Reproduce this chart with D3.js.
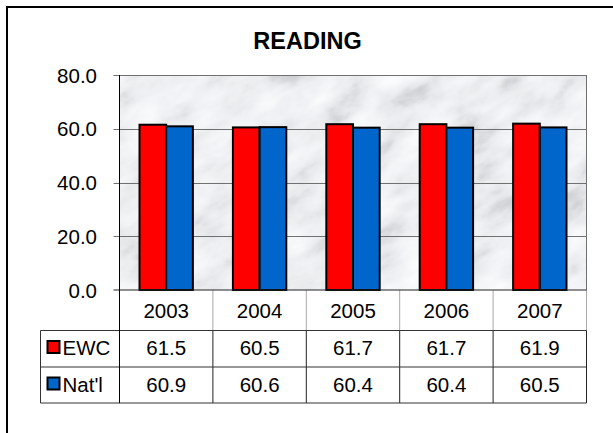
<!DOCTYPE html>
<html lang="en">
<head>
<meta charset="utf-8">
<title>READING</title>
<script src="https://cdn.jsdelivr.net/npm/d3@7"></script>
<style>
  body { margin: 0; background: #fff; }
  svg { display: block; font-family: "Liberation Sans", Arial, sans-serif; }
</style>
</head>
<body>
<script>
// chart data
const years = ['2003', '2004', '2005', '2006', '2007'];
const seriesNames = ['EWC', "Nat'l"];
const ewc = [61.5, 60.5, 61.7, 61.7, 61.9];
const natl = [60.9, 60.6, 60.4, 60.4, 60.5];
const seriesColors = ['#ff0000', '#0066cc'];
const yTicks = [0, 20, 40, 60, 80];

const W = 613, H = 433;
const plot = { left: 119.5, right: 586.5, top: 75, bottom: 290 };
const rowBottoms = [330.5, 367, 403]; // year row, EWC row, Nat'l row
const tableLeft = 40.5;

const svg = d3.select('body').append('svg')
  .attr('width', W).attr('height', H);

// marble-ish background texture
const defs = svg.append('defs');
const f = defs.append('filter').attr('id', 'marble')
  .attr('x', 0).attr('y', 0).attr('width', 1).attr('height', 1)
  .attr('filterUnits', 'objectBoundingBox');
f.append('feTurbulence')
  .attr('type', 'fractalNoise')
  .attr('baseFrequency', '0.018 0.032')
  .attr('numOctaves', 5).attr('seed', 11).attr('result', 'n');
f.append('feColorMatrix').attr('in', 'n').attr('type', 'matrix')
  .attr('values', '1 0 0 0 0  1 0 0 0 0  1 0 0 0 0  0 0 0 0 1').attr('result', 'g');
const ct = f.append('feComponentTransfer').attr('in', 'g');
ct.append('feFuncR').attr('type', 'table').attr('tableValues', '0.5 0.58 0.68 0.8 0.86 0.9 0.94 0.97 0.99');
ct.append('feFuncG').attr('type', 'table').attr('tableValues', '0.51 0.59 0.69 0.81 0.87 0.91 0.95 0.98 1');
ct.append('feFuncB').attr('type', 'table').attr('tableValues', '0.53 0.61 0.71 0.83 0.89 0.93 0.96 0.99 1');
defs.append('clipPath').attr('id', 'plotclip')
  .append('rect')
  .attr('x', plot.left).attr('y', plot.top)
  .attr('width', plot.right - plot.left).attr('height', plot.bottom - plot.top);

// outer frame
svg.append('rect')
  .attr('x', 7).attr('y', 7).attr('width', W + 20).attr('height', H + 20)
  .attr('fill', 'none').attr('stroke', '#000').attr('stroke-width', 2);

// title
svg.append('text')
  .attr('x', 307.5).attr('y', 48.5)
  .attr('text-anchor', 'middle')
  .style('font-size', '23.5px').style('font-weight', 'bold')
  .text('READING');

const x = d3.scaleBand().domain(years).range([plot.left, plot.right]);
const xs = d3.scaleBand().domain(seriesNames).range([0, x.bandwidth()])
  .paddingInner(0).paddingOuter(0.75);
const y = d3.scaleLinear().domain([0, 80]).range([plot.bottom, plot.top]);

// background
svg.append('g').attr('clip-path', 'url(#plotclip)')
  .append('rect')
  .attr('x', plot.left - 150).attr('y', plot.top - 150)
  .attr('width', plot.right - plot.left + 300).attr('height', plot.bottom - plot.top + 300)
  .attr('transform', `rotate(-30 ${(plot.left + plot.right) / 2} ${(plot.top + plot.bottom) / 2})`)
  .attr('filter', 'url(#marble)');

// gridlines
svg.append('g').selectAll('line')
  .data(yTicks.filter(d => d > 0))
  .join('line')
  .attr('x1', plot.left - 6).attr('x2', plot.right)
  .attr('y1', d => Math.round(y(d)) + 0.5).attr('y2', d => Math.round(y(d)) + 0.5)
  .attr('stroke', '#707070').attr('stroke-width', 1);

svg.append('line')
  .attr('x1', plot.right).attr('x2', plot.right)
  .attr('y1', plot.top).attr('y2', plot.bottom)
  .attr('stroke', '#707070');

// y labels
svg.append('g').selectAll('text')
  .data(yTicks)
  .join('text')
  .attr('x', 97).attr('y', d => y(d) + 7.5)
  .attr('text-anchor', 'end')
  .style('font-size', '20.5px')
  .text(d => d3.format('.1f')(d));

// bars
const series = [ewc, natl];
const bars = svg.append('g');
seriesNames.forEach((name, si) => {
  bars.selectAll('rect.s' + si)
    .data(years.map((yr, i) => ({ yr, v: series[si][i] })))
    .join('rect')
    .attr('class', 's' + si)
    .attr('x', d => x(d.yr) + xs(name))
    .attr('y', d => y(d.v))
    .attr('width', xs.bandwidth())
    .attr('height', d => y(0) - y(d.v))
    .attr('fill', seriesColors[si])
    .attr('stroke', '#000').attr('stroke-width', 2);
});

// table lines
const tbl = svg.append('g');
// year row column separators (gray)
tbl.selectAll('line.ycol')
  .data(years.slice(1).concat(['end']))
  .join('line')
  .attr('x1', d => d === 'end' ? plot.right : x(d))
  .attr('x2', d => d === 'end' ? plot.right : x(d))
  .attr('y1', plot.bottom).attr('y2', rowBottoms[0])
  .attr('stroke', '#a8a8a8');
// data row column separators
tbl.selectAll('line.dcol')
  .data(years.slice(1).concat(['end']))
  .join('line')
  .attr('x1', d => d === 'end' ? plot.right : x(d))
  .attr('x2', d => d === 'end' ? plot.right : x(d))
  .attr('y1', rowBottoms[0]).attr('y2', rowBottoms[2])
  .attr('stroke', '#222');
// horizontal rules
tbl.selectAll('line.hrow')
  .data(rowBottoms)
  .join('line')
  .attr('x1', tableLeft).attr('x2', plot.right)
  .attr('y1', d => d).attr('y2', d => d)
  .attr('stroke', '#333');
tbl.append('line')
  .attr('x1', tableLeft).attr('x2', tableLeft)
  .attr('y1', rowBottoms[0]).attr('y2', rowBottoms[2])
  .attr('stroke', '#333');

// axes
svg.append('line')
  .attr('x1', plot.left - 6).attr('x2', plot.right)
  .attr('y1', plot.bottom).attr('y2', plot.bottom)
  .attr('stroke', '#222');
svg.append('line')
  .attr('x1', plot.left).attr('x2', plot.left)
  .attr('y1', plot.top).attr('y2', rowBottoms[2])
  .attr('stroke', '#000');

// year labels
svg.append('g').selectAll('text')
  .data(years)
  .join('text')
  .attr('x', d => x(d) + x.bandwidth() / 2)
  .attr('y', 318)
  .attr('text-anchor', 'middle')
  .style('font-size', '20.5px')
  .text(d => d);

// data rows
const rowBase = [355, 391.5];
seriesNames.forEach((name, si) => {
  const g = svg.append('g');
  g.append('rect')
    .attr('x', 47.5).attr('y', rowBase[si] - 14)
    .attr('width', 12).attr('height', 12)
    .attr('fill', seriesColors[si])
    .attr('stroke', '#000').attr('stroke-width', 2);
  g.append('text')
    .attr('x', 62.5).attr('y', rowBase[si])
    .style('font-size', '20.5px')
    .text(name);
  g.selectAll('text.v')
    .data(series[si])
    .join('text')
    .attr('class', 'v')
    .attr('x', (d, i) => x(years[i]) + x.bandwidth() / 2)
    .attr('y', rowBase[si])
    .attr('text-anchor', 'middle')
    .style('font-size', '20.5px')
    .text(d => d.toFixed(1));
});
</script>
</body>
</html>
